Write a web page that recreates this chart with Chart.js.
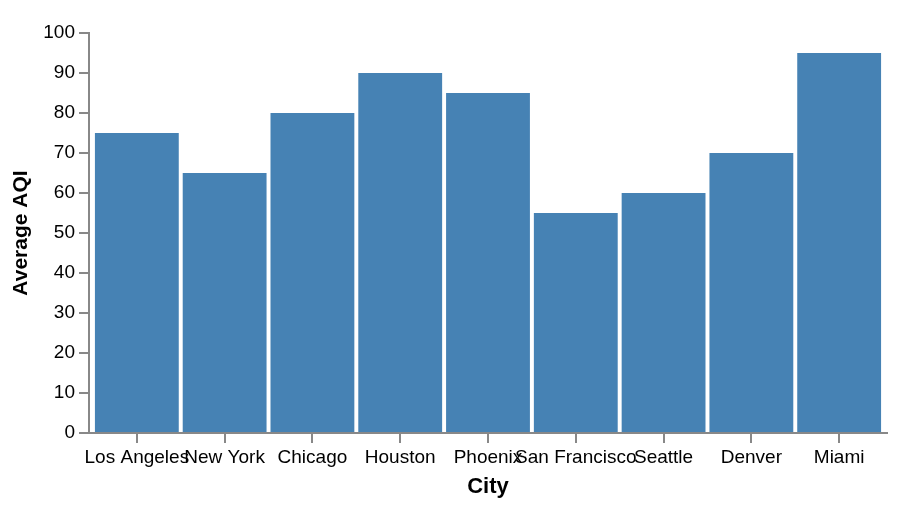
<!DOCTYPE html>
<html>
<head>
<meta charset="utf-8">
<script src="https://cdn.jsdelivr.net/npm/chart.js@4/dist/chart.umd.min.js"></script>
<style>
  html, body { margin: 0; padding: 0; background: #fff; }
  #wrap { width: 898px; height: 506px; }
</style>
</head>
<body>
<div id="wrap"><canvas id="aqi"></canvas></div>
<script>
// chart data
var cities = ["Los Angeles", "New York", "Chicago", "Houston", "Phoenix",
              "San Francisco", "Seattle", "Denver", "Miami"];
var avgAqi = [75, 65, 80, 90, 85, 55, 60, 70, 95];
var yTicks = [0, 10, 20, 30, 40, 50, 60, 70, 80, 90, 100];

var axisGrey = "#888888";
var font = "'Liberation Sans', Arial, Helvetica, sans-serif";

var points = avgAqi.map(function(v, i) { return { x: i, y: v }; });

var ctx = document.getElementById("aqi").getContext("2d");
var myChart = new Chart(ctx, {
    type: 'bar',
    data: {
        datasets: [{
            data: points,
            backgroundColor: "#4682b4",
            borderWidth: 0,
            barPercentage: 0.955,
            categoryPercentage: 1.0
        }]
    },
    options: {
        responsive: true,
        maintainAspectRatio: false,
        animation: false,
        layout: { padding: { top: 33, right: 11, bottom: 0, left: 0 } },
        plugins: {
            legend: { display: false },
            tooltip: { enabled: false }
        },
        scales: {
            x: {
                type: 'linear',
                offset: false,
                min: -0.545,
                max: 8.545,
                afterBuildTicks: function(scale) {
                    scale.ticks = cities.map(function(c, i) { return { value: i }; });
                },
                afterFit: function(scale) { scale.height = 73; },
                ticks: {
                    autoSkip: false,
                    maxRotation: 0,
                    padding: 3,
                    color: "#000",
                    font: { family: font, size: 19 },
                    callback: function(v) { return cities[v]; }
                },
                grid: {
                    offset: false,
                    drawOnChartArea: false,
                    tickLength: 10,
                    color: axisGrey,
                    lineWidth: 2
                },
                border: { color: axisGrey, width: 2 },
                title: {
                    display: true,
                    text: "City",
                    color: "#000",
                    font: { family: font, size: 22, weight: 'bold' },
                    padding: { top: 0, bottom: 6 }
                }
            },
            y: {
                min: 0,
                max: 100,
                afterBuildTicks: function(scale) {
                    scale.ticks = yTicks.map(function(v) { return { value: v }; });
                },
                afterFit: function(scale) { scale.width = 89; },
                ticks: {
                    padding: 4,
                    color: "#000",
                    font: { family: font, size: 19 }
                },
                grid: {
                    drawOnChartArea: false,
                    tickLength: 10,
                    color: axisGrey,
                    lineWidth: 2
                },
                border: { color: axisGrey, width: 2 },
                title: {
                    display: true,
                    text: "Average AQI",
                    color: "#000",
                    font: { family: font, size: 21, weight: 'bold' },
                    padding: { top: 9, bottom: 0 }
                }
            }
        }
    }
});
</script>
</body>
</html>
